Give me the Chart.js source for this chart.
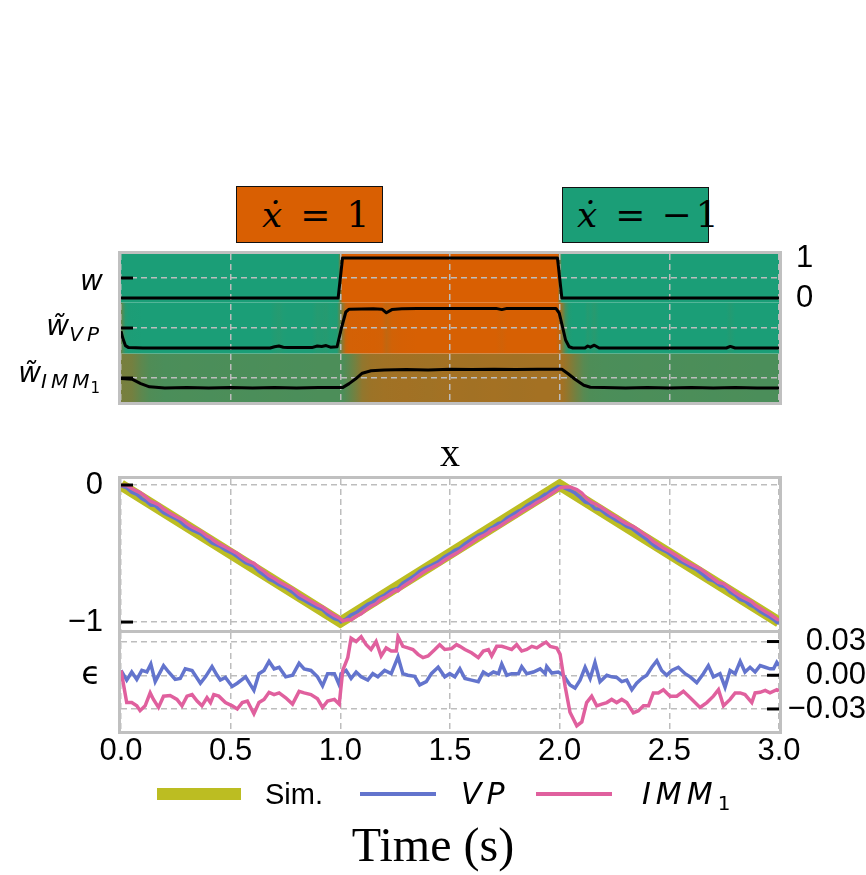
<!DOCTYPE html>
<html>
<head>
<meta charset="utf-8">
<title>Mode probabilities and position estimates</title>
<script src="https://cdn.jsdelivr.net/npm/chart.js@4.4.1/dist/chart.umd.min.js"></script>
<style>
  html, body { margin: 0; padding: 0; background: #fff; }
  body { position: relative; width: 866px; height: 875px; overflow: hidden; }
  canvas { position: absolute; left: 0; }
  #topPanel { top: 232px; }
  #xPanel { top: 431px; }
  #errPanel { top: 600px; }
  .modeBox {
    position: absolute; box-sizing: border-box; border: 1.5px solid #111;
    font-family: "DejaVu Serif", serif; font-size: 36px; line-height: 1;
    white-space: nowrap; color: #000; display: flex; align-items: center;
  }
  .modeBox i { font-style: italic; }
  .modeBox .op { margin: 0 16px 0 18px; }
  .modeBox .neg { margin-right: 4px; }
  #box0 { left: 236px; top: 186px; width: 147px; height: 57px; padding-left: 25px; }
  #box1 { left: 562px; top: 187px; width: 147px; height: 56px; padding-left: 14px; }
  #legend { position: absolute; left: 0; top: 776px; width: 866px; height: 36px; }
  .lgSwatch { position: absolute; }
  .lgText { position: absolute; top: 0; height: 36px; line-height: 36px; font-size: 29px; color: #000;
            font-family: "Liberation Sans", Arial, sans-serif; white-space: nowrap; }
  .lgText.math { font-family: "DejaVu Sans", sans-serif; font-style: italic; letter-spacing: 5px; font-size: 30px; }
  .lgText sub { font-size: 20px; vertical-align: -6px; letter-spacing: 0; font-style: normal; }
</style>
</head>
<body>
<div class="modeBox" id="box0"></div>
<div class="modeBox" id="box1"></div>
<canvas id="topPanel" width="866" height="190"></canvas>
<canvas id="xPanel" width="866" height="230"></canvas>
<canvas id="errPanel" width="866" height="275"></canvas>
<div id="legend"></div>
<script>
// ---------------- data ----------------
const timeTicks = [0, 0.5, 1, 1.5, 2, 2.5, 3];

// motion modes: symbol and rate
const modeNames = [['ẋ', '1'], ['ẋ', '−1']];

// true mode indicator w (1 = forward, 0 = backward)
const modeT = [0, 0.99, 1.01, 1.99, 2.01, 3];
const modeW = [0, 0, 1, 1, 0, 0];

// estimated mode probability, VP filter
const probVPT = [0, 0.008, 0.02, 0.035, 0.1, 0.68, 0.7, 0.72, 0.74, 0.76, 0.87, 0.895, 0.915, 0.935, 0.955,
  0.985, 1.005, 1.025, 1.04, 1.15, 1.19, 1.21, 1.235, 1.28, 1.35, 1.71, 1.736, 1.76, 1.983, 1.998, 2.013,
  2.027, 2.043, 2.06, 2.115, 2.128, 2.14, 2.158, 2.18, 2.76, 2.778, 2.8, 3];
const probVP = [0.42, 0.25, 0.06, 0.01, 0, 0, 0.03, 0.05, 0.02, 0.01, 0.01, 0.05, 0.04, 0.06, 0.02,
  0.03, 0.5, 0.9, 0.97, 0.98, 0.97, 0.88, 0.96, 0.98, 0.99, 0.99, 0.96, 0.99, 0.99, 0.87, 0.53,
  0.2, 0.03, 0, 0, 0.05, 0.02, 0.07, 0, 0, 0.04, 0, 0];

// estimated mode probability, IMM filter
const probIMMT = [0, 0.05, 0.09, 0.13, 0.2, 0.3, 0.4, 0.5, 0.6, 0.7, 0.8, 0.9, 1.01, 1.04, 1.07, 1.1, 1.14,
  1.2, 1.3, 1.4, 1.5, 1.6, 1.7, 1.8, 1.9, 2.01, 2.04, 2.07, 2.11, 2.14, 2.2, 2.3, 2.4, 2.5, 2.6, 2.7, 2.8, 2.9, 3];
const probIMM = [0.49, 0.47, 0.36, 0.28, 0.25, 0.26, 0.25, 0.26, 0.25, 0.26, 0.25, 0.26, 0.26, 0.36, 0.48, 0.62, 0.68,
  0.7, 0.71, 0.7, 0.72, 0.71, 0.72, 0.71, 0.72, 0.72, 0.6, 0.47, 0.32, 0.27, 0.26, 0.25, 0.26, 0.25, 0.26, 0.25, 0.26, 0.25, 0.25];

// simulated position (ground truth)
const simT = [0, 1, 2, 3];
const simX = [0, -1, 0, -1];

// position error (truth minus estimate), VP filter
const errVPT = [0, 0.026, 0.049, 0.072, 0.095, 0.118, 0.136, 0.156, 0.194, 0.217, 0.247, 0.27, 0.293, 0.324,
  0.362, 0.385, 0.415, 0.438, 0.453, 0.476, 0.507, 0.53, 0.568, 0.606, 0.629, 0.652, 0.675, 0.698, 0.721,
  0.751, 0.782, 0.812, 0.835, 0.866, 0.896, 0.919, 0.942, 0.973, 0.995, 1.003, 1.026, 1.049, 1.072, 1.095,
  1.125, 1.148, 1.171, 1.202, 1.232, 1.263, 1.285, 1.308, 1.339, 1.362, 1.392, 1.415, 1.446, 1.476, 1.499,
  1.522, 1.545, 1.568, 1.598, 1.629, 1.652, 1.675, 1.698, 1.721, 1.736, 1.759, 1.781, 1.812, 1.827, 1.85,
  1.88, 1.911, 1.934, 1.941, 1.964, 1.994, 2.017, 2.047, 2.07, 2.093, 2.116, 2.139, 2.161, 2.184, 2.215,
  2.237, 2.26, 2.283, 2.306, 2.329, 2.351, 2.374, 2.397, 2.42, 2.443, 2.465, 2.488, 2.511, 2.541, 2.572,
  2.595, 2.625, 2.655, 2.678, 2.701, 2.731, 2.754, 2.777, 2.8, 2.823, 2.845, 2.868, 2.891, 2.914, 2.937,
  2.959, 2.975, 2.99, 3];
const errVP = [0.0043, -0.0043, 0.0029, -0.0037, 0.0043, 0.0029, 0.01, -0.0057, 0.0086, 0.0029, -0.0037, -0.0029,
  0.0057, 0.0043, -0.0071, -0.0014, 0.0077, 0, -0.0043, -0.002, -0.01, -0.0071, -0.0014, -0.0134, 0.0014,
  0.0043, 0.0123, 0.0057, 0.0071, -0.0014, 0, 0.0106, 0.0057, 0.0043, -0.0014, -0.0094, 0.0014, 0.0014,
  -0.0086, 0.0014, 0.0043, -0.0029, 0.0029, -0.0014, -0.0043, 0.0014, -0.0014, 0.0043, 0.0014, 0.0163,
  0.0014, 0, -0.0009, -0.0086, -0.0057, 0.0014, 0.0071, -0.0014, 0.0014, -0.0014, 0.0057, -0.0029, -0.0043,
  -0.0057, 0.0029, 0, 0.0029, 0.0014, 0.01, 0, 0.0014, 0.0014, 0.0077, 0.0014, 0.0029, 0.0057, 0.0014,
  0.0077, 0.002, 0.0029, 0, -0.0086, -0.0114, -0.0043, 0.0071, -0.0029, 0.0114, -0.0057, 0, -0.0014,
  -0.002, -0.0057, -0.0043, -0.0129, -0.0071, -0.0029, 0, 0.0071, 0.0129, 0.0043, 0, 0.0043, 0.0071,
  0.0014, -0.0014, -0.0066, 0.0014, 0.0086, -0.0014, 0.0014, -0.0106, 0.0043, 0.0014, 0.0123, 0.0029,
  0.0071, 0.0029, 0.0086, 0.0071, 0.0057, 0.0057, 0.0114, 0.0086];

// position error (truth minus estimate), IMM filter
const errIMMT = [0, 0.026, 0.049, 0.072, 0.087, 0.11, 0.133, 0.148, 0.171, 0.194, 0.224, 0.255, 0.278, 0.301,
  0.324, 0.347, 0.369, 0.392, 0.408, 0.423, 0.446, 0.476, 0.507, 0.53, 0.553, 0.576, 0.606, 0.629, 0.652,
  0.675, 0.698, 0.721, 0.751, 0.782, 0.812, 0.835, 0.866, 0.896, 0.919, 0.942, 0.973, 0.995, 1.011, 1.034,
  1.049, 1.072, 1.095, 1.118, 1.14, 1.163, 1.186, 1.209, 1.232, 1.255, 1.263, 1.285, 1.308, 1.331, 1.354,
  1.377, 1.4, 1.431, 1.453, 1.476, 1.507, 1.53, 1.545, 1.568, 1.598, 1.629, 1.652, 1.675, 1.69, 1.713,
  1.736, 1.759, 1.781, 1.804, 1.827, 1.85, 1.873, 1.896, 1.918, 1.938, 1.957, 1.987, 2.002, 2.025, 2.047,
  2.078, 2.101, 2.123, 2.146, 2.169, 2.192, 2.215, 2.237, 2.26, 2.283, 2.306, 2.336, 2.359, 2.382, 2.405,
  2.427, 2.45, 2.473, 2.503, 2.534, 2.564, 2.595, 2.64, 2.671, 2.701, 2.724, 2.747, 2.777, 2.8, 2.823,
  2.845, 2.876, 2.891, 2.914, 2.937, 2.959, 2.99, 3];
const errIMM = [0.0043, -0.0243, -0.0243, -0.0272, -0.0315, -0.0272, -0.0157, -0.0215, -0.0286, -0.0186, -0.018,
  -0.0215, -0.0272, -0.0186, -0.0172, -0.0229, -0.0272, -0.02, -0.0243, -0.0172, -0.0186, -0.0243, -0.0272,
  -0.03, -0.0243, -0.0229, -0.0343, -0.0243, -0.0215, -0.0152, -0.0172, -0.0157, -0.02, -0.0257, -0.0143,
  -0.0157, -0.0172, -0.0209, -0.0286, -0.0229, -0.0215, -0.0257, 0.0043, 0.0157, 0.0329, 0.03, 0.0343,
  0.0272, 0.0229, 0.03, 0.0172, 0.0243, 0.0215, 0.0215, 0.0343, 0.0257, 0.0243, 0.0229, 0.0186, 0.0157,
  0.0172, 0.0229, 0.0272, 0.0229, 0.0237, 0.0272, 0.0257, 0.0229, 0.02, 0.0157, 0.0215, 0.0229, 0.0172,
  0.0257, 0.0257, 0.0243, 0.0229, 0.0272, 0.0215, 0.0229, 0.0257, 0.0243, 0.0272, 0.0295, 0.0257, 0.0243,
  0.0186, -0.01, -0.0329, -0.0449, -0.0415, -0.0243, -0.0186, -0.0272, -0.0257, -0.0243, -0.0215, -0.0243,
  -0.0215, -0.0243, -0.0335, -0.0315, -0.0272, -0.0272, -0.0157, -0.0157, -0.0129, -0.0186, -0.0186,
  -0.0143, -0.02, -0.0286, -0.0243, -0.0186, -0.0129, -0.0272, -0.0215, -0.0157, -0.0157, -0.0172,
  -0.0243, -0.0157, -0.0152, -0.0135, -0.0157, -0.0129, -0.014];

// axis tick values and their labels
const wTicks = [1, 0];
const xTicks = [0, -1];
const xTickLabels = ['0', '−1'];
const errTicks = [0.03, 0, -0.03];
const errTickLabels = ['0.03', '0.00', '−0.03'];

// series names and row labels (symbol, subscript, second-level subscript)
const seriesNames = ['Sim.', 'VP', 'IMM'];
const rowLabels = [['w', '', ''], ['w̃', 'VP', ''], ['w̃', 'IMM', '1']];

// ---------------- styling ----------------
const TEAL = [27, 158, 119];
const ORANGE = [217, 95, 2];
const OLIVE = '#BCBD22';
const BLUE = '#6374CD';
const PINK = '#E0609E';
const GRID = '#bdbdbd';
const FRAME = '#c0c0c0';
const SANS = '"Liberation Sans", Arial, sans-serif';
const SERIF = '"Liberation Serif", "Times New Roman", serif';

// rows of the mode panel: each row is shifted down by ROW_STEP units
const ROW_STEP = 1.25;
const BAND_EDGES = [1.1, -0.11, -1.39, -2.6];
const ROW_LABEL_DY = [12, 7, 4];

function mix(p) {
  const c = TEAL.map((v, i) => Math.round(v + (ORANGE[i] - v) * p));
  return `rgb(${c[0]},${c[1]},${c[2]})`;
}
const rgb = a => `rgb(${a[0]},${a[1]},${a[2]})`;

// mode annotation boxes
[0, 1].forEach(i => {
  const el = document.getElementById('box' + i);
  el.style.background = rgb(i === 0 ? ORANGE : TEAL);
  const rate = modeNames[i][1];
  const body = rate.startsWith('−') ? `<span class="neg">−</span>${rate.slice(1)}` : rate;
  el.innerHTML = `<i>${modeNames[i][0]}</i><span class="op">=</span>${body}`;
});

// piecewise-linear ground truth at an arbitrary time
function simAt(t) {
  for (let i = 1; i < simT.length; i++) {
    if (t <= simT[i]) {
      const f = (t - simT[i - 1]) / (simT[i] - simT[i - 1]);
      return simX[i - 1] + f * (simX[i] - simX[i - 1]);
    }
  }
  return simX[simX.length - 1];
}

Chart.defaults.color = '#000';
Chart.defaults.font.family = SANS;
Chart.defaults.animation = false;

// frame around the plotting area plus inward black tick marks
const panelFrame = {
  id: 'panelFrame',
  afterDraw(chart, args, opts) {
    const { ctx, chartArea: a } = chart;
    ctx.save();
    const s = chart.scales[opts.tickScale];
    if (s) {
      ctx.strokeStyle = '#000';
      ctx.lineWidth = 3;
      s.ticks.forEach(t => {
        const y = s.getPixelForValue(t.value);
        ctx.beginPath();
        if (opts.tickSide === 'left') { ctx.moveTo(a.left, y); ctx.lineTo(a.left + 12, y); }
        else { ctx.moveTo(a.right, y); ctx.lineTo(a.right - 12, y); }
        ctx.stroke();
      });
    }
    ctx.strokeStyle = FRAME;
    ctx.lineWidth = 3;
    ctx.strokeRect(a.left - 1.5, a.top - 1.5, a.width + 3, a.height + 3);
    ctx.restore();
  }
};

// math-style row labels (w, w~_VP, w~_IMM1) beside the mode rows
const rowLabelPlugin = {
  id: 'rowLabels',
  afterDraw(chart) {
    const { ctx } = chart;
    const s = chart.scales.y;
    const right = 103;
    ctx.save();
    ctx.fillStyle = '#000';
    ctx.textBaseline = 'alphabetic';
    ctx.textAlign = 'left';
    rowLabels.forEach((lab, k) => {
      const base = s.getPixelForValue(0.5 - k * ROW_STEP) + ROW_LABEL_DY[k];
      const fMain = 'italic 28px "DejaVu Sans"';
      const fSub = 'italic 20px "DejaVu Sans"';
      const fSub2 = '15px "DejaVu Sans"';
      ctx.font = fMain; ctx.letterSpacing = '0px';
      const w0 = ctx.measureText(lab[0]).width;
      ctx.font = fSub; ctx.letterSpacing = '4px';
      const w1 = lab[1] ? ctx.measureText(lab[1]).width : 0;
      ctx.font = fSub2; ctx.letterSpacing = '0px';
      const w2 = lab[2] ? ctx.measureText(lab[2]).width : 0;
      let x = right - (w0 + w1 + w2);
      ctx.font = fMain; ctx.letterSpacing = '0px';
      ctx.fillText(lab[0], x, base); x += w0;
      if (lab[1]) { ctx.font = fSub; ctx.letterSpacing = '4px'; ctx.fillText(lab[1], x, base + 6); x += w1; }
      if (lab[2]) { ctx.font = fSub2; ctx.letterSpacing = '0px'; ctx.fillText(lab[2], x - 3, base + 11); }
    });
    ctx.restore();
  }
};

const fixWidth = w => scale => { scale.width = w; scale.paddingTop = 0; scale.paddingBottom = 0; };
const fixHeight = h => scale => { scale.height = h; scale.paddingLeft = 0; scale.paddingRight = 0; };

function timeAxis(showLabels, height) {
  return {
    type: 'linear', min: 0, max: 3,
    afterBuildTicks: ax => { ax.ticks = timeTicks.map(v => ({ value: v })); },
    grid: { color: GRID, lineWidth: 1.5, drawTicks: false },
    border: { display: false, dash: [6, 4] },
    ticks: {
      display: showLabels, padding: 2, font: { size: 31, family: SANS },
      callback: v => Number(v).toFixed(1), maxRotation: 0, autoSkip: false
    },
    afterFit: fixHeight(height)
  };
}

// ---------------- mode panel ----------------
// colour band behind a row: a horizontal gradient with one stop per sample
function bandDataset(ts, ps, k) {
  return {
    data: ts.map(t => ({ x: t, y: BAND_EDGES[k] })),
    fill: { value: BAND_EDGES[k + 1] },
    borderWidth: 0, pointRadius: 0, order: 10, clip: 0,
    backgroundColor: c => {
      const chart = c.chart, area = chart.chartArea, xs = chart.scales.x;
      if (!area || !xs) return mix(ps[0]);
      const g = chart.ctx.createLinearGradient(area.left, 0, area.right, 0);
      ts.forEach((t, i) => {
        const f = (xs.getPixelForValue(t) - area.left) / (area.right - area.left);
        g.addColorStop(Math.min(1, Math.max(0, f)), mix(ps[i]));
      });
      return g;
    }
  };
}
function rowLine(ts, vs, k) {
  return {
    data: ts.map((t, i) => ({ x: t, y: vs[i] - k * ROW_STEP })),
    borderColor: '#000', borderWidth: 3, pointRadius: 0, fill: false, order: 1, clip: 0,
    borderJoinStyle: 'round'
  };
}

new Chart(document.getElementById('topPanel'), {
  type: 'line',
  data: {
    datasets: [
      rowLine(modeT, modeW, 0),
      rowLine(probVPT, probVP, 1),
      rowLine(probIMMT, probIMM, 2),
      bandDataset(modeT, modeW, 0),
      bandDataset(probVPT, probVP, 1),
      bandDataset(probIMMT, probIMM, 2)
    ]
  },
  options: {
    responsive: false,
    layout: { padding: { top: 22, bottom: 20, left: 0, right: 0 } },
    plugins: {
      legend: { display: false }, tooltip: { enabled: false },
      filler: { drawTime: 'beforeDraw' },
      panelFrame: { tickScale: 'y', tickSide: 'left' }
    },
    scales: {
      x: timeAxis(false, 0),
      y: {
        type: 'linear', position: 'left', min: -2.6, max: 1.1,
        afterBuildTicks: ax => { ax.ticks = rowLabels.map((_, k) => ({ value: 0.5 - k * ROW_STEP })); },
        grid: { color: GRID, lineWidth: 1.5, drawTicks: false },
        border: { display: false, dash: [6, 4] },
        ticks: { display: false },
        afterFit: fixWidth(121)
      },
      yR: {
        type: 'linear', position: 'right', min: -2.6, max: 1.1,
        afterBuildTicks: ax => { ax.ticks = wTicks.map(v => ({ value: v })); },
        grid: { display: false, drawTicks: false },
        border: { display: false },
        ticks: { padding: 17, font: { size: 31 }, callback: v => String(v) },
        afterFit: fixWidth(87)
      }
    }
  },
  plugins: [panelFrame, rowLabelPlugin]
});

// ---------------- position panel ----------------
// estimates recovered from the truth and the recorded errors
const estVP = errVPT.map((t, i) => ({ x: t, y: simAt(t) - errVP[i] }));
const estIMM = errIMMT.map((t, i) => ({ x: t, y: simAt(t) - errIMM[i] }));

const xChart = new Chart(document.getElementById('xPanel'), {
  type: 'line',
  data: {
    datasets: [
      { label: seriesNames[0], data: simT.map((t, i) => ({ x: t, y: simX[i] })), borderColor: OLIVE,
        backgroundColor: OLIVE, borderWidth: 11, pointRadius: 0, order: 3, clip: 0 },
      { label: seriesNames[1], data: estVP, borderColor: BLUE, backgroundColor: BLUE, borderWidth: 3.5,
        pointRadius: 0, order: 2, clip: 0 },
      { label: seriesNames[2], data: estIMM, borderColor: PINK, backgroundColor: PINK, borderWidth: 3.5,
        pointRadius: 0, order: 1, clip: 0 }
    ]
  },
  options: {
    responsive: false,
    layout: { padding: { top: 0, bottom: 31, left: 0, right: 87 } },
    plugins: {
      legend: { display: false }, tooltip: { enabled: false },
      title: { display: true, text: 'x', fullSize: false, padding: 0, color: '#000',
               font: { family: SERIF, size: 40, weight: 'normal', lineHeight: 1.2 } },
      panelFrame: { tickScale: 'y', tickSide: 'left' }
    },
    scales: {
      x: timeAxis(false, 0),
      y: {
        type: 'linear', position: 'left', min: -1.058, max: 0.044,
        afterBuildTicks: ax => { ax.ticks = xTicks.map(v => ({ value: v })); },
        grid: { color: GRID, lineWidth: 1.5, drawTicks: false },
        border: { display: false, dash: [6, 4] },
        ticks: { padding: 18, font: { size: 31 }, callback: v => xTickLabels[xTicks.indexOf(v)] },
        afterFit: fixWidth(121)
      }
    }
  },
  plugins: [panelFrame]
});

// ---------------- error panel ----------------
new Chart(document.getElementById('errPanel'), {
  type: 'line',
  data: {
    datasets: [
      { label: seriesNames[1], data: errVPT.map((t, i) => ({ x: t, y: errVP[i] })), borderColor: BLUE,
        borderWidth: 3.5, pointRadius: 0, order: 2, clip: 0 },
      { label: seriesNames[2], data: errIMMT.map((t, i) => ({ x: t, y: errIMM[i] })), borderColor: PINK,
        borderWidth: 3.5, pointRadius: 0, order: 1, clip: 0 }
    ]
  },
  options: {
    responsive: false,
    layout: { padding: { top: 33, bottom: 0, left: 0, right: 0 } },
    plugins: {
      legend: { display: false }, tooltip: { enabled: false },
      title: { display: true, text: 'Time (s)', position: 'bottom', padding: { top: 0, bottom: 3 }, color: '#000',
               font: { family: SERIF, size: 48, weight: 'normal', lineHeight: 1 } },
      panelFrame: { tickScale: 'yR', tickSide: 'right' }
    },
    scales: {
      x: timeAxis(true, 93),
      y: {
        type: 'linear', position: 'left', min: -0.0496, max: 0.0376,
        afterBuildTicks: ax => { ax.ticks = [{ value: 0 }]; },
        grid: { display: true, drawOnChartArea: false, drawTicks: false, color: 'rgba(0,0,0,0)' },
        border: { display: false },
        ticks: { padding: 20, font: { size: 32, family: '"DejaVu Sans", sans-serif' }, callback: () => 'ϵ' },
        afterFit: fixWidth(121)
      },
      yR: {
        type: 'linear', position: 'right', min: -0.0496, max: 0.0376,
        afterBuildTicks: ax => { ax.ticks = errTicks.map(v => ({ value: v })); },
        grid: { color: GRID, lineWidth: 1.5, drawTicks: false },
        border: { display: false, dash: [6, 4] },
        ticks: { padding: 6, crossAlign: 'far', font: { size: 31 },
                 callback: v => errTickLabels[errTicks.indexOf(v)] },
        afterFit: fixWidth(87)
      }
    }
  },
  plugins: [panelFrame]
});

// ---------------- legend ----------------
const legendSlots = [
  { sw: 157, w: 84, tx: 265 },
  { sw: 360, w: 76, tx: 461 },
  { sw: 536, w: 76, tx: 642 }
];
const legend = document.getElementById('legend');
xChart.data.datasets.forEach((ds, i) => {
  const slot = legendSlots[i];
  const h = Math.max(4, ds.borderWidth + 1);
  const sw = document.createElement('span');
  sw.className = 'lgSwatch';
  sw.style.cssText = `left:${slot.sw}px;width:${slot.w}px;height:${h}px;top:${18 - h / 2}px;background:${ds.borderColor}`;
  legend.appendChild(sw);
  const tx = document.createElement('span');
  tx.className = 'lgText' + (i > 0 ? ' math' : '');
  tx.style.left = slot.tx + 'px';
  tx.innerHTML = i === 2 ? `${ds.label}<sub>1</sub>` : ds.label;
  legend.appendChild(tx);
});
</script>
</body>
</html>
